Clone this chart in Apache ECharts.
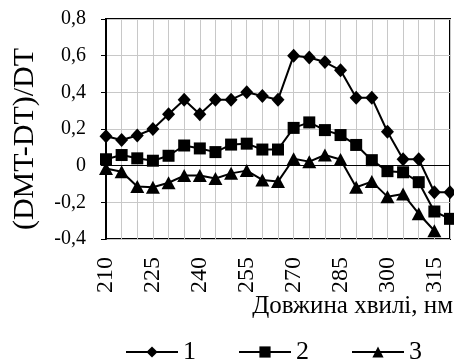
<!DOCTYPE html>
<html>
<head>
<meta charset="utf-8">
<script src="https://cdn.jsdelivr.net/npm/echarts@6/dist/echarts.min.js"></script>
<style>
  html, body { margin: 0; padding: 0; background: #fff; }
  #main { width: 454px; height: 363px; }
</style>
</head>
<body>
<div id="main"></div>
<script>
// довжина хвилі, нм
const waveLen = ['210', '215', '220', '225', '230', '235', '240', '245', '250', '255', '260', '265',
  '270', '275', '280', '285', '290', '295', '300', '305', '310', '315', '320'];
const serie1 = [0.16, 0.14, 0.165, 0.2, 0.28, 0.36, 0.28, 0.36, 0.36, 0.40, 0.38, 0.36,
  0.60, 0.59, 0.565, 0.52, 0.37, 0.37, 0.185, 0.035, 0.035, -0.145, -0.145];
const serie2 = [0.035, 0.058, 0.04, 0.027, 0.054, 0.11, 0.094, 0.074, 0.115, 0.12, 0.088, 0.088,
  0.206, 0.236, 0.194, 0.167, 0.113, 0.03, -0.03, -0.036, -0.09, -0.25, -0.29];
const serie3 = [-0.015, -0.033, -0.114, -0.118, -0.093, -0.054, -0.054, -0.07, -0.042, -0.027, -0.078, -0.087,
  0.038, 0.022, 0.058, 0.034, -0.118, -0.087, -0.169, -0.155, -0.262, -0.355, null];
const seriesNames = ['1', '2', '3'];

const font = 'Liberation Serif';
const chart = echarts.init(document.getElementById('main'), null, { renderer: 'canvas' });

function lineSerie(name, data, symbol, size) {
  return {
    name: name,
    type: 'line',
    data: data,
    symbol: symbol,
    symbolSize: size,
    showAllSymbol: true,
    connectNulls: false,
    lineStyle: { color: '#000', width: 2 },
    itemStyle: { color: '#000' },
    animation: false
  };
}

let series = [
  lineSerie(seriesNames[0], serie1, 'diamond', [13, 14]),
  lineSerie(seriesNames[1], serie2, 'rect', 12),
  lineSerie(seriesNames[2], serie3, 'triangle', [14, 13])
];
// нульова лінія
series[0].markLine = {
  silent: true,
  symbol: 'none',
  label: { show: false },
  lineStyle: { color: '#000', width: 1, type: 'solid' },
  data: [{ yAxis: 0 }]
};

let option = {
  backgroundColor: '#fff',
  animation: false,
  title: {
    text: 'Довжина хвилі, нм',
    right: 1,
    top: 294,
    padding: 0,
    textStyle: { fontFamily: font, fontSize: 25, fontWeight: 'normal', color: '#000' }
  },
  grid: {
    left: 106,
    right: 4,
    top: 19,
    height: 220,
    show: true,
    borderColor: '#000',
    borderWidth: 2,
    containLabel: false
  },
  legend: {
    data: seriesNames,
    left: 120,
    top: 334,
    itemWidth: 52,
    itemHeight: 14,
    itemGap: 42,
    textStyle: { fontFamily: font, fontSize: 26, color: '#000' }
  },
  xAxis: {
    type: 'category',
    data: waveLen,
    boundaryGap: false,
    axisLine: { show: false },
    axisTick: { show: false },
    splitLine: { show: true, interval: 0, lineStyle: { color: '#c8c8c8', width: 1 } },
    axisLabel: {
      interval: 2,
      rotate: 90,
      margin: 18,
      fontFamily: font,
      fontSize: 24,
      color: '#000'
    }
  },
  yAxis: {
    type: 'value',
    min: -0.4,
    max: 0.8,
    interval: 0.2,
    name: '(DMT-DT)/DT',
    nameLocation: 'middle',
    nameGap: 66,
    nameTextStyle: { fontFamily: font, fontSize: 30, color: '#000', padding: [0, 20, 0, 0] },
    axisLine: { show: true, lineStyle: { color: '#000', width: 2 } },
    axisTick: { show: true, inside: false, length: 5, lineStyle: { color: '#000', width: 1 } },
    splitLine: { show: true, lineStyle: { color: '#c8c8c8', width: 1 } },
    axisLabel: {
      margin: 20,
      fontFamily: font,
      fontSize: 20,
      color: '#000',
      formatter: function (v) {
        if (Math.abs(v) < 1e-9) return '0';
        return v.toFixed(1).replace('.', ',');
      }
    }
  },
  series: series
};

chart.setOption(option);
</script>
</body>
</html>
